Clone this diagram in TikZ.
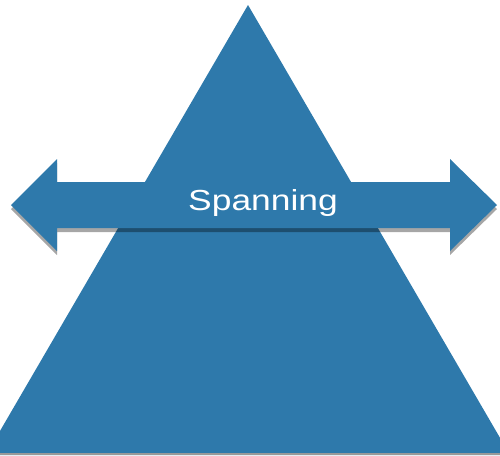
\documentclass[tikz,border=0pt]{standalone}
\usepackage{fontspec}
\newfontfamily\spanfont[FakeStretch=1.22]{Liberation Sans}
\usetikzlibrary{shadows}
\definecolor{paperblue}{RGB}{46,121,171}

\begin{document}
\begin{tikzpicture}[x=1pt, y=-1pt,
    block/.style ={fill=paperblue, draw=none},
    label/.style ={text=white, font=\spanfont\fontsize{29}{29}\selectfont, inner sep=0pt}]
   \useasboundingbox (0,0) rectangle (500,455);
   \begin{scope}
      \clip (0,0) rectangle (500,455);
      % pyramid
      \fill[block] (248,5) -- (510,455) -- (-14,455) -- cycle;
      \fill[gray!80] (0,453) rectangle (500,455);
   \end{scope}
   % two-headed arrow across the pyramid
   \fill[block, drop shadow={shadow xshift=0pt, shadow yshift=-4pt, fill=black, opacity=.35}]
      (11,205) -- (57,159) -- (57,182) -- (450,182) -- (450,159) -- (497,205)
      -- (450,251) -- (450,228) -- (57,228) -- (57,251) -- cycle;
   \node[label, anchor=base] (span) at (263,210.5) {Spanning};
\end{tikzpicture}
\end{document}
